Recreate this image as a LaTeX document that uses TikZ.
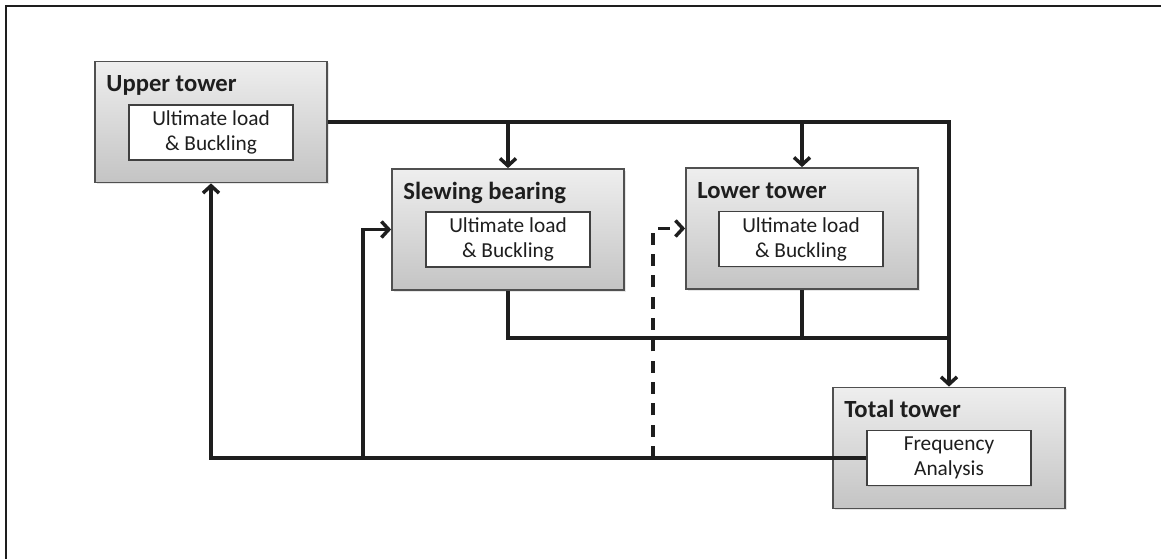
\documentclass[tikz,border=0pt]{standalone}
\usepackage{fontspec}
\setmainfont{Carlito}
\usetikzlibrary{arrows.meta,shadows}
\definecolor{boxtop}{RGB}{238,238,238}
\definecolor{boxbot}{RGB}{196,196,196}
\definecolor{boxline}{RGB}{80,80,80}
\definecolor{ink}{RGB}{30,30,30}
\begin{document}
\begin{tikzpicture}[x=0.75pt,y=-0.75pt,
  outer/.style={draw=boxline, line width=1.3pt, top color=boxtop, bottom color=boxbot,
    minimum width=174pt, minimum height=90.75pt, inner sep=0pt,
    drop shadow={opacity=0.2,shadow xshift=1.2pt,shadow yshift=-1.2pt}},
  inner/.style={draw=ink!85, line width=1pt, fill=white, minimum width=123pt,
    minimum height=41.25pt, inner sep=0pt, align=center, text=ink,
    font=\fontsize{16}{18.75}\selectfont,
    drop shadow={opacity=0.2,shadow xshift=0.8pt,shadow yshift=-0.8pt}},
  ttl/.style={anchor=base west, inner sep=0pt, text=ink,
    font=\fontsize{18.5}{22}\selectfont\bfseries},
  conn/.style={draw=ink, line width=2.6pt},
  arr/.style={conn, -{Straight Barb[length=5.5pt,width=12pt]}},
  dashline/.style={dash pattern=on 9pt off 7pt}
]
\useasboundingbox (0,0) rectangle (1161,559);
\draw[ink, line width=1.6pt] (6,559) -- (6,6) -- (1161,6);

% boxes
\node[outer] (up)   at (211,122)   {};
\node[outer] (slew) at (508,229.5) {};
\node[outer] (low)  at (802,228.5) {};
\node[outer] (tot)  at (949,448)   {};

\node[inner] (upi)   at (211,132.5) {Ultimate load\\\& Buckling};
\node[inner] (slewi) at (508,239.5) {Ultimate load\\\& Buckling};
\node[inner] (lowi)  at (801,239)   {Ultimate load\\\& Buckling};
\node[inner] (toti)  at (949,458)   {Frequency\\Analysis};

\node[ttl] (upt)   at ([shift={(12,31)}]up.north west)   {Upper tower};
\node[ttl] (slewt) at ([shift={(12,31)}]slew.north west) {Slewing bearing};
\node[ttl] (lowt)  at ([shift={(12,31)}]low.north west)  {Lower tower};
\node[ttl] (tott)  at ([shift={(12,31)}]tot.north west)  {Total tower};

% helper coordinates
\coordinate (bus) at (0,338);
\coordinate (fx)  at (363,0);
\coordinate (dx)  at (653,0);

% connectors
\draw[arr] (up.east) -| (tot.north);
\draw[arr] (up.east -| slew.north) -- (slew.north);
\draw[arr] (up.east -| low.north) -- (low.north);
\draw[conn] (slew.south) |- (bus -| tot.north);
\draw[conn] (low.south) -- (low.south |- bus);
\draw[arr] (toti.west) -| (up.south);
\draw[arr] (fx |- toti.west) |- (slew.west);
\draw[arr, dashline] (dx |- toti.west) |- (low.west);
\end{tikzpicture}
\end{document}
